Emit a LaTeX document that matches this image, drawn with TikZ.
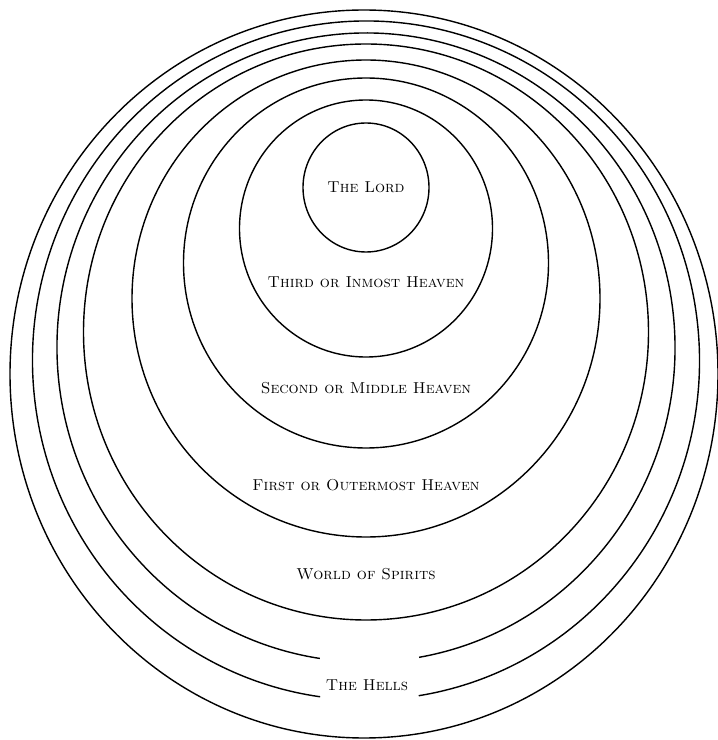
\documentclass[tikz,border=0pt]{standalone}
\usepackage{fontspec}
\usepackage{tikz}
\tikzset{
    ring/.style  = {color=black, line width=0.8pt},
    realm/.style = {color=black, anchor=center, inner sep=0pt, font=\fontsize{9}{11}\selectfont\scshape}
}

\begin{document}
\begin{tikzpicture}
            \useasboundingbox (0.00, 0.00) rectangle (14.36, 14.80);
            \draw[ring] ( 7.32, 11.05) ellipse (1.26 and 1.29);
            \draw[ring] ( 7.32, 10.23) ellipse (2.53 and 2.57);
            \draw[ring] ( 7.32,  9.54) ellipse (3.65 and 3.70);
            \draw[ring] ( 7.32,  8.83) ellipse (4.68 and 4.77);
            \draw[ring] ( 7.32,  8.16) ellipse (5.65 and 5.76);
            \draw[ring] ( 7.32,  7.85) ++(279.9:6.18 and 6.29) arc[start angle=279.9, end angle=621.4, x radius=6.18, y radius=6.29];
            \draw[ring] ( 7.32,  7.59) ++(279.1:6.67 and 6.79) arc[start angle=279.1, end angle=622.1, x radius=6.67, y radius=6.79];
            \draw[ring] ( 7.28,  7.32) ellipse (7.08 and 7.28);
            \node[realm] (lord)   at ( 7.32, 11.06) {The Lord};
            \node[realm] (third)  at ( 7.32,  9.16) {Third or Inmost Heaven};
            \node[realm] (second) at ( 7.32,  7.04) {Second or Middle Heaven};
            \node[realm] (first)  at ( 7.32,  5.10) {First or Outermost Heaven};
            \node[realm] (world)  at ( 7.32,  3.32) {World of Spirits};
            \node[realm] (hells)  at ( 7.34,  1.10) {The Hells};
        \end{tikzpicture}
\end{document}
